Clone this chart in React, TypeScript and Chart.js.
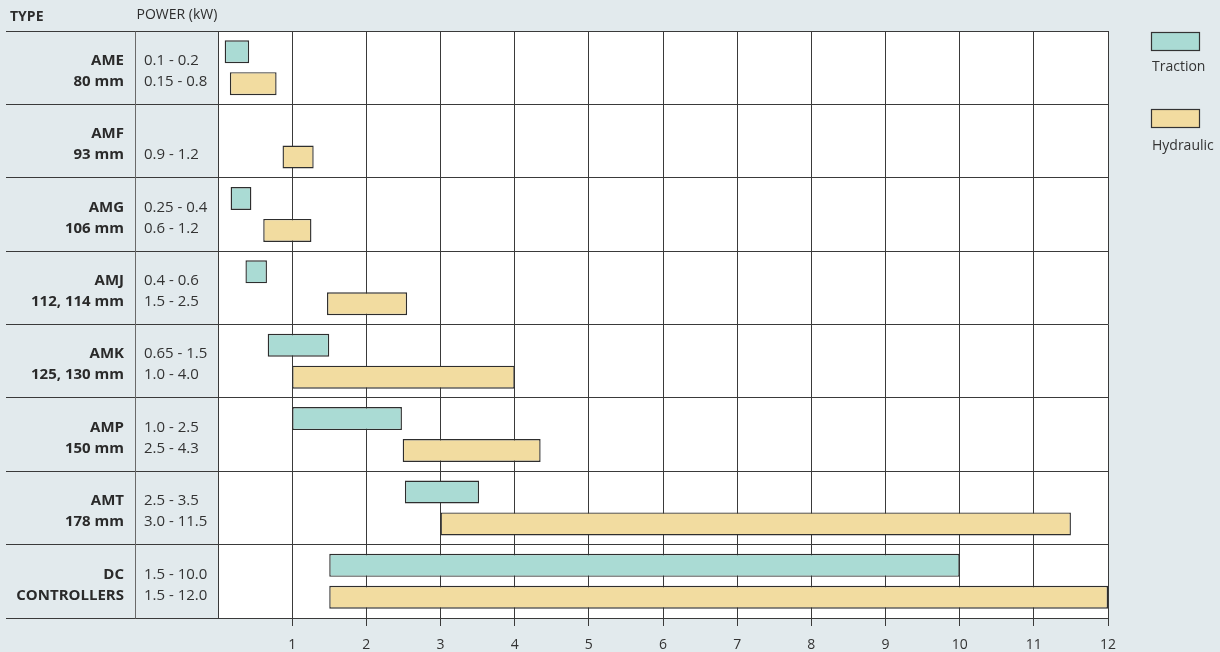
import React, { useEffect, useRef } from "react";
import { Chart, registerables } from "chart.js";

Chart.register(...registerables);

// ---- data ----
const typeLabels: string[][] = [
  ["AME", "80 mm"],
  ["AMF", "93 mm"],
  ["AMG", "106 mm"],
  ["AMJ", "112, 114 mm"],
  ["AMK", "125, 130 mm"],
  ["AMP", "150 mm"],
  ["AMT", "178 mm"],
  ["DC", "CONTROLLERS"],
];

const powerLabels: string[][] = [
  ["0.1 - 0.2", "0.15 - 0.8"],
  ["", "0.9 - 1.2"],
  ["0.25 - 0.4", "0.6 - 1.2"],
  ["0.4 - 0.6", "1.5 - 2.5"],
  ["0.65 - 1.5", "1.0 - 4.0"],
  ["1.0 - 2.5", "2.5 - 4.3"],
  ["2.5 - 3.5", "3.0 - 11.5"],
  ["1.5 - 10.0", "1.5 - 12.0"],
];

// bar extents as drawn (kW)
const tractionStart: (number | null)[] = [0.09, null, 0.17, 0.37, 0.67, 1.0, 2.52, 1.5];
const tractionEnd: (number | null)[] = [0.42, null, 0.45, 0.66, 1.5, 2.48, 3.52, 10.0];
const hydraulicStart: number[] = [0.16, 0.87, 0.61, 1.47, 1.0, 2.49, 3.0, 1.5];
const hydraulicEnd: number[] = [0.79, 1.29, 1.26, 2.55, 4.0, 4.35, 11.5, 12.0];

const xTickValues: number[] = [1, 2, 3, 4, 5, 6, 7, 8, 9, 10, 11, 12];

const seriesNames = ["Traction", "Hydraulic"];
const headerType = "TYPE";
const headerPower = "POWER (kW)";

// ---- styles ----
const FONT = "'Open Sans', 'Noto Sans', sans-serif";
const BG = "#e2eaed";
const LINE = "#3a3a3a";
const TEAL = "#aadbd4";
const TAN = "#f2dca0";

export default function App() {
  const ref = useRef<HTMLCanvasElement>(null);

  useEffect(() => {
    if (!ref.current) return;
    const n = typeLabels.length;

    const tablePlugin = {
      id: "tablePlugin",
      beforeDraw(chart: any) {
        const { ctx, chartArea: a } = chart;
        ctx.save();
        ctx.fillStyle = "#ffffff";
        ctx.fillRect(a.left, a.top, a.right - a.left, a.bottom - a.top);
        ctx.restore();
      },
      afterDraw(chart: any) {
        const { ctx, chartArea: a, scales } = chart;
        const y = scales.y;
        const half = (y.getPixelForValue(1) - y.getPixelForValue(0)) / 2;
        const align = (p: number) => Math.round(p - 0.5) + 0.5;
        ctx.save();
        ctx.lineWidth = 1;
        ctx.strokeStyle = LINE;
        for (let i = 0; i <= n; i++) {
          const py = align(i < n ? y.getPixelForValue(i) - half : y.getPixelForValue(n - 1) + half);
          ctx.beginPath();
          ctx.moveTo(6, py);
          ctx.lineTo(a.left, py);
          ctx.stroke();
        }
        const sep = align(scales.yPower.left - 9);
        ctx.strokeStyle = "#6a6a6a";
        ctx.beginPath();
        ctx.moveTo(sep, align(a.top));
        ctx.lineTo(sep, align(a.bottom));
        ctx.stroke();

        // header
        ctx.fillStyle = "#2d2d2d";
        ctx.textAlign = "left";
        ctx.textBaseline = "alphabetic";
        ctx.font = `bold 14px ${FONT}`;
        ctx.fillText(headerType, 10, 21);
        ctx.font = `14px ${FONT}`;
        ctx.fillText(headerPower, sep + 1, 19);

        // legend
        chart.data.datasets.forEach((ds: any, i: number) => {
          const bx = a.right + 43;
          const by = 32 + i * 77;
          ctx.fillStyle = ds.backgroundColor;
          ctx.fillRect(bx, by, 49, 19);
          ctx.strokeStyle = "#333";
          ctx.lineWidth = 1.2;
          ctx.strokeRect(bx + 0.5, by + 0.5, 48, 18);
          ctx.fillStyle = "#333";
          ctx.font = `14px ${FONT}`;
          ctx.fillText(ds.label, bx + 1, by + 19 + 20 + i * 2);
        });
        ctx.restore();
      },
    };

    const noVPad = (s: any, w: number) => {
      s.width = w;
      s.paddingTop = 0;
      s.paddingBottom = 0;
    };

    const chart = new Chart(ref.current, {
      type: "bar",
      data: {
        labels: typeLabels,
        datasets: [
          {
            label: seriesNames[0],
            data: tractionStart.map((s, i) => (s == null ? null : [s, tractionEnd[i] as number])) as any,
            backgroundColor: TEAL,
            borderColor: "#2e2e2e",
            borderWidth: 1.4,
            borderSkipped: false,
            categoryPercentage: 0.87,
            barPercentage: 0.72,
            yAxisID: "y",
          },
          {
            label: seriesNames[1],
            data: hydraulicStart.map((s, i) => [s, hydraulicEnd[i]]) as any,
            backgroundColor: TAN,
            borderColor: "#2e2e2e",
            borderWidth: 1.4,
            borderSkipped: false,
            categoryPercentage: 0.87,
            barPercentage: 0.72,
            yAxisID: "y",
          },
        ],
      },
      options: {
        indexAxis: "y",
        responsive: false,
        animation: false,
        layout: { padding: { top: 31, right: 112, bottom: 0, left: 0 } },
        plugins: { legend: { display: false }, tooltip: { enabled: false } },
        font: { family: FONT },
        scales: {
          x: {
            type: "linear",
            position: "bottom",
            min: 0,
            max: 12,
            afterBuildTicks: (s: any) => {
              s.ticks = xTickValues.map((v) => ({ value: v }));
            },
            afterFit: (s: any) => {
              s.height = 34;
            },
            grid: { color: LINE, lineWidth: 1, tickLength: 8, drawTicks: true },
            border: { display: true, color: LINE },
            ticks: {
              color: "#333",
              font: { family: FONT, size: 14 },
              padding: 11,
              maxRotation: 0,
              autoSkip: false,
            },
          },
          y: {
            type: "category",
            axis: "y",
            position: "left",
            weight: 2,
            offset: true,
            labels: typeLabels as any,
            grid: { offset: true, color: LINE, lineWidth: 1, drawTicks: false },
            border: { display: false },
            ticks: {
              crossAlign: "near",
              padding: 20,
              color: "#2a2a2a",
              font: { family: FONT, size: 15, weight: "bold", lineHeight: 1.4 },
              autoSkip: false,
              labelOffset: 3.5,
            },
            afterFit: (s: any) => noVPad(s, 144),
          },
          yPower: {
            type: "category",
            axis: "y",
            position: "left",
            weight: 1,
            offset: true,
            labels: powerLabels as any,
            grid: { display: false, drawTicks: false },
            border: { display: true, color: LINE },
            ticks: {
              crossAlign: "far",
              color: "#333",
              font: { family: FONT, size: 15, lineHeight: 1.4 },
              autoSkip: false,
              labelOffset: 3.5,
            },
            afterFit: (s: any) => noVPad(s, 74),
          },
        } as any,
      } as any,
      plugins: [tablePlugin],
    });

    return () => chart.destroy();
  }, []);

  return (
    <div
      style={{
        position: "fixed",
        left: 0,
        top: 0,
        width: 1220,
        height: 652,
        background: BG,
      }}
    >
      <canvas ref={ref} width={1220} height={652} style={{ width: 1220, height: 652, display: "block" }} />
    </div>
  );
}
